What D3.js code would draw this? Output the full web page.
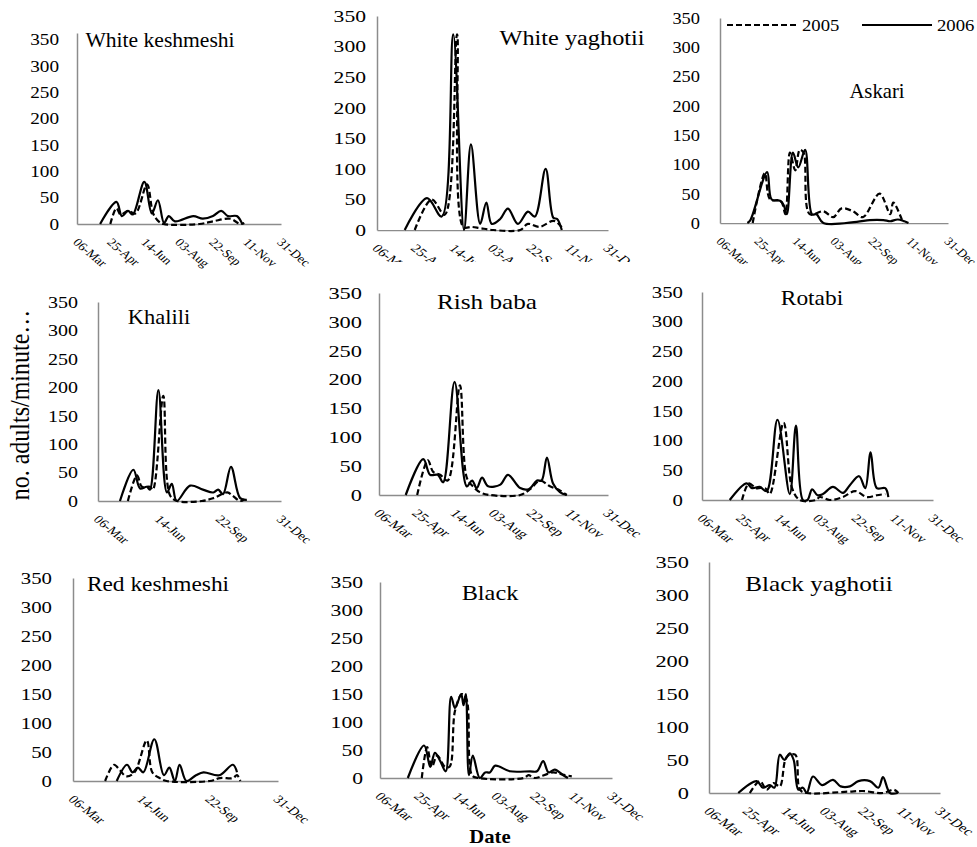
<!DOCTYPE html>
<html>
<head>
<meta charset="utf-8">
<script src="https://cdn.jsdelivr.net/npm/d3@7"></script>
<style>
  body { margin: 0; background: #fff; }
  svg { display: block; font-family: "Liberation Serif", "Times New Roman", serif; }
</style>
</head>
<body>
<svg id="chart" width="977" height="847"></svg>
<script>
const parseDay = d3.timeParse("%d-%b");
const fmtDay = d3.timeFormat("%d-%b");

// axis ticks
const yTicks = [0, 50, 100, 150, 200, 250, 300, 350];
const xTicksFull = ["06-Mar", "25-Apr", "14-Jun", "03-Aug", "22-Sep", "11-Nov", "31-Dec"];
const xTicksWide = ["06-Mar", "14-Jun", "22-Sep", "31-Dec"];
const xStart = "06-Mar", xEnd = "31-Dec";

// series: [date, no. adults/minute]
const whiteKeshmeshi2005 = [["24-Apr",0],["03-May",30],["09-May",18],["20-May",25],["31-May",20],["17-Jun",75],["26-Jun",20],["04-Jul",5],["11-Jul",0],["02-Sep",0],["22-Sep",5],["17-Oct",10],["01-Nov",0],["07-Nov",2]];
const whiteKeshmeshi2006 = [["09-Apr",0],["03-May",42],["11-May",15],["20-May",25],["27-May",18],["13-Jun",80],["24-Jun",20],["03-Jul",45],["12-Jul",2],["19-Jul",15],["28-Jul",5],["24-Aug",15],["07-Sep",10],["22-Sep",15],["04-Oct",25],["14-Oct",15],["27-Oct",15],["04-Nov",0]];

const whiteYaghotii2005 = [["24-Apr",0],["16-May",50],["02-Jun",25],["18-Jun",320],["26-Jun",5],["07-Jul",5],["18-Jul",3],["04-Aug",0],["08-Sep",0],["18-Sep",10],["03-Oct",5],["21-Oct",15],["28-Oct",10],["03-Nov",0]];
const whiteYaghotii2006 = [["11-Apr",0],["10-May",52],["29-May",22],["13-Jun",320],["27-Jun",0],["06-Jul",140],["18-Jul",10],["26-Jul",45],["02-Aug",10],["13-Aug",18],["23-Aug",35],["05-Sep",10],["18-Sep",30],["27-Sep",22],["11-Oct",100],["21-Oct",20],["26-Oct",18],["01-Nov",0]];

const askari2005 = [["18-Apr",0],["04-May",85],["11-May",40],["25-May",38],["31-May",15],["06-Jun",120],["13-Jun",90],["19-Jun",125],["24-Jun",120],["02-Jul",15],["20-Jul",20],["02-Aug",10],["13-Aug",25],["28-Aug",20],["10-Sep",10],["02-Oct",50],["16-Oct",15],["20-Oct",35],["02-Nov",0]];
const askari2006 = [["11-Apr",0],["15-Apr",5],["07-May",87],["13-May",40],["24-May",38],["29-May",30],["02-Jun",15],["10-Jun",120],["17-Jun",95],["26-Jun",125],["05-Jul",15],["11-Jul",15],["20-Jul",0],["02-Sep",2],["19-Sep",5],["07-Oct",5],["16-Oct",3],["26-Oct",6],["09-Nov",0]];

const khalili2005 = [["24-Apr",0],["09-May",45],["17-May",25],["30-May",25],["04-Jun",20],["21-Jun",185],["02-Jul",10],["14-Jul",0],["23-Aug",0],["11-Sep",5],["04-Oct",15],["12-Oct",10],["25-Oct",0],["01-Nov",3]];
const khalili2006 = [["11-Apr",0],["03-May",55],["14-May",22],["25-May",25],["30-May",20],["13-Jun",195],["27-Jun",15],["05-Jul",30],["13-Jul",0],["04-Aug",27],["25-Aug",20],["11-Sep",15],["19-Sep",20],["27-Sep",12],["10-Oct",60],["25-Oct",5],["05-Nov",2]];

const rishBaba2005 = [["25-Apr",0],["09-May",60],["16-May",40],["25-May",35],["04-Jun",25],["20-Jun",190],["29-Jun",30],["07-Jul",15],["16-Jul",5],["29-Jul",0],["07-Sep",0],["20-Sep",10],["03-Oct",25],["16-Oct",15],["29-Oct",8],["07-Nov",0]];
const rishBaba2006 = [["10-Apr",0],["03-May",62],["12-May",35],["22-May",35],["29-May",22],["13-Jun",196],["29-Jun",15],["06-Jul",25],["12-Jul",12],["19-Jul",30],["27-Jul",15],["12-Aug",18],["22-Aug",35],["07-Sep",12],["18-Sep",10],["29-Sep",25],["05-Oct",25],["12-Oct",65],["20-Oct",20],["29-Oct",5],["07-Nov",0]];

const rotabi2005 = [["27-Apr",0],["06-May",28],["15-May",20],["27-May",20],["02-Jun",10],["20-Jun",130],["01-Jul",20],["11-Jul",0],["01-Aug",0],["06-Aug",5],["19-Aug",0],["05-Sep",5],["21-Sep",15],["06-Oct",5],["19-Oct",8],["30-Oct",10]];
const rotabi2006 = [["11-Apr",0],["03-May",28],["10-May",20],["20-May",22],["29-May",15],["12-Jun",135],["28-Jun",10],["06-Jul",125],["15-Jul",0],["21-Jul",0],["27-Jul",18],["03-Aug",8],["10-Aug",10],["23-Aug",22],["05-Sep",12],["14-Sep",25],["26-Sep",40],["04-Oct",20],["11-Oct",80],["19-Oct",20],["30-Oct",20],["03-Nov",5]];

const redKeshmeshi2005 = [["22-Apr",0],["05-May",28],["14-May",18],["23-May",8],["04-Jun",15],["22-Jun",70],["30-Jun",15],["11-Jul",5],["21-Jul",0],["22-Sep",0],["07-Oct",5],["26-Oct",5],["01-Nov",10],["06-Nov",0]];
const redKeshmeshi2006 = [["09-May",0],["24-May",28],["01-Jun",15],["09-Jun",23],["17-Jun",15],["03-Jul",72],["17-Jul",10],["25-Jul",23],["02-Aug",0],["09-Aug",28],["19-Aug",0],["02-Sep",10],["13-Sep",15],["06-Oct",10],["26-Oct",28],["01-Nov",15]];

const black2005 = [["29-Apr",0],["06-May",55],["12-May",20],["19-May",40],["29-May",20],["04-Jun",20],["11-Jun",120],["20-Jun",150],["26-Jun",140],["03-Jul",5],["11-Jul",0],["08-Sep",0],["14-Sep",5],["22-Sep",0],["16-Oct",10],["28-Oct",6],["09-Nov",3]];
const black2006 = [["11-Apr",0],["02-May",58],["10-May",20],["16-May",45],["23-May",30],["30-May",12],["06-Jun",145],["11-Jun",125],["19-Jun",150],["22-Jun",130],["25-Jun",150],["29-Jun",5],["04-Jul",40],["13-Jul",0],["20-Jul",10],["26-Jul",10],["02-Aug",22],["21-Aug",12],["16-Sep",12],["25-Sep",12],["03-Oct",30],["10-Oct",10],["18-Oct",15],["29-Oct",5],["04-Nov",0]];

const blackYaghotii2005 = [["28-Apr",0],["11-May",18],["20-May",5],["29-May",15],["06-Jun",10],["15-Jun",55],["26-Jun",58],["02-Jul",5],["11-Jul",0],["02-Sep",2],["22-Sep",3],["18-Oct",0],["01-Nov",5],["07-Nov",0]];
const blackYaghotii2006 = [["13-Apr",0],["07-May",18],["15-May",8],["24-May",12],["30-May",8],["06-Jun",58],["12-Jun",50],["19-Jun",60],["24-Jun",50],["30-Jun",5],["06-Jul",8],["11-Jul",0],["19-Jul",25],["31-Jul",12],["14-Aug",20],["24-Aug",10],["05-Sep",10],["16-Sep",18],["01-Oct",18],["12-Oct",8],["18-Oct",24],["27-Oct",0],["06-Nov",0]];

// panel layout (each panel was a separately sized chart, text stretched by sx)
const panels = [
  { title: "White keshmeshi", s2005: whiteKeshmeshi2005, s2006: whiteKeshmeshi2006, ticks: xTicksFull,
    left: 77, right: 281, bottom: 224, top: 33, yTop: 362, sx: 1.2, gap: 18, tx: 160, ty: 47 },
  { title: "White yaghotii", s2005: whiteYaghotii2005, s2006: whiteYaghotii2006, ticks: xTicksFull,
    left: 377, right: 608, bottom: 230, top: 16, yTop: 350, sx: 1.35, gap: 11, tx: 572, ty: 45, clip: 262 },
  { title: "Askari", s2005: askari2005, s2006: askari2006, ticks: xTicksFull,
    left: 720, right: 948, bottom: 223, top: 18, yTop: 350, sx: 1.15, gap: 20, tx: 877, ty: 98, clip: 264 },
  { title: "Khalili", s2005: khalili2005, s2006: khalili2006, ticks: xTicksWide,
    left: 98, right: 281, bottom: 501, top: 302, yTop: 350, sx: 1.25, gap: 20, tx: 159, ty: 324 },
  { title: "Rish baba", s2005: rishBaba2005, s2006: rishBaba2006, ticks: xTicksFull,
    left: 379, right: 608, bottom: 495, top: 293, yTop: 350, sx: 1.4, gap: 17, tx: 487, ty: 309 },
  { title: "Rotabi", s2005: rotabi2005, s2006: rotabi2006, ticks: xTicksFull,
    left: 702, right: 933, bottom: 500, top: 292, yTop: 350, sx: 1.3, gap: 19, tx: 812, ty: 305 },
  { title: "Red keshmeshi", s2005: redKeshmeshi2005, s2006: redKeshmeshi2006, ticks: xTicksWide,
    left: 73, right: 278, bottom: 781, top: 578, yTop: 350, sx: 1.3, gap: 21, tx: 158, ty: 591 },
  { title: "Black", s2005: black2005, s2006: black2006, ticks: xTicksFull,
    left: 380, right: 612, bottom: 778, top: 582, yTop: 350, sx: 1.35, gap: 17, tx: 490, ty: 600 },
  { title: "Black yaghotii", s2005: blackYaghotii2005, s2006: blackYaghotii2006, ticks: xTicksFull,
    left: 709, right: 940, bottom: 793, top: 562, yTop: 350, sx: 1.4, gap: 20, tx: 819, ty: 591 }
];

const svg = d3.select("#chart");
const axisColor = "#8c8c8c";
const titleSize = 20;

panels.forEach((p, i) => {
  const x = d3.scaleTime().domain([parseDay(xStart), parseDay(xEnd)]).range([p.left, p.right]);
  const y = d3.scaleLinear().domain([0, p.yTop]).range([p.bottom, p.top]);
  const g = svg.append("g").attr("class", "panel");

  // y axis
  const yAxis = g.append("g")
    .attr("transform", `translate(${p.left},0)`)
    .call(d3.axisLeft(y).tickValues(yTicks).tickSize(0).tickSizeOuter(0).tickPadding(0))
    .attr("font-family", null).attr("font-size", null);
  yAxis.select(".domain").attr("stroke", axisColor).attr("stroke-width", 1.5);
  yAxis.selectAll("text")
    .attr("x", -p.gap / p.sx).attr("dy", "0.33em")
    .attr("font-size", 16).attr("fill", "#000")
    .attr("transform", `scale(${p.sx},1)`);

  // x axis
  if (p.clip) {
    g.append("clipPath").attr("id", `clip${i}`)
      .append("rect").attr("x", p.left - 30).attr("y", 0)
      .attr("width", p.right - p.left + 80).attr("height", p.clip - p.bottom);
  }
  const xAxis = g.append("g")
    .attr("transform", `translate(0,${p.bottom})`)
    .call(d3.axisBottom(x).tickValues(p.ticks.map(parseDay)).tickFormat(fmtDay).tickSize(0).tickSizeOuter(0))
    .attr("font-family", null).attr("font-size", null);
  xAxis.select(".domain").attr("stroke", axisColor).attr("stroke-width", 1.5);
  xAxis.selectAll(".tick text")
    .attr("y", 0).attr("dy", "0.75em")
    .attr("text-anchor", "start")
    .attr("font-size", 11.5).attr("fill", "#000")
    .attr("transform", `translate(2,13) scale(${p.sx},1) rotate(45)`);
  if (p.clip) xAxis.attr("clip-path", `url(#clip${i})`);

  // series
  const line = d3.line()
    .x(d => x(parseDay(d[0])))
    .y(d => y(d[1]))
    .curve(d3.curveCatmullRom.alpha(0.5));

  g.append("path").datum(p.s2005)
    .attr("d", line).attr("fill", "none")
    .attr("stroke", "#000").attr("stroke-width", 2.2)
    .attr("stroke-dasharray", "6,3");
  g.append("path").datum(p.s2006)
    .attr("d", line).attr("fill", "none")
    .attr("stroke", "#000").attr("stroke-width", 2.2);

  // panel title
  g.append("text")
    .attr("transform", `translate(${p.tx},${p.ty}) scale(${p.sx * 18 / titleSize},1)`)
    .attr("text-anchor", "middle").attr("font-size", titleSize).attr("fill", "#000")
    .text(p.title);
});

// legend (sits in the Askari panel)
const legend = svg.append("g").attr("transform", "translate(727,25)");
const legendItems = [
  { label: "2005", dash: "6,3", x: 0 },
  { label: "2006", dash: null, x: 135 }
];
legendItems.forEach(it => {
  legend.append("line")
    .attr("x1", it.x).attr("x2", it.x + 70).attr("y1", 0).attr("y2", 0)
    .attr("stroke", "#000").attr("stroke-width", 2.2)
    .attr("stroke-dasharray", it.dash);
  legend.append("text")
    .attr("transform", `translate(${it.x + 75},6) scale(1.1,1)`)
    .attr("font-size", 17).attr("fill", "#000")
    .text(it.label);
});

// axis titles
svg.append("text")
  .attr("transform", "translate(29,405) scale(1.1,1) rotate(-90)")
  .attr("text-anchor", "middle").attr("font-size", 24).attr("fill", "#000")
  .text("no. adults/minute…");

svg.append("text")
  .attr("transform", "translate(490,843) scale(1.15,1)")
  .attr("text-anchor", "middle").attr("font-size", 18).attr("font-weight", "bold").attr("fill", "#000")
  .text("Date");
</script>
</body>
</html>
